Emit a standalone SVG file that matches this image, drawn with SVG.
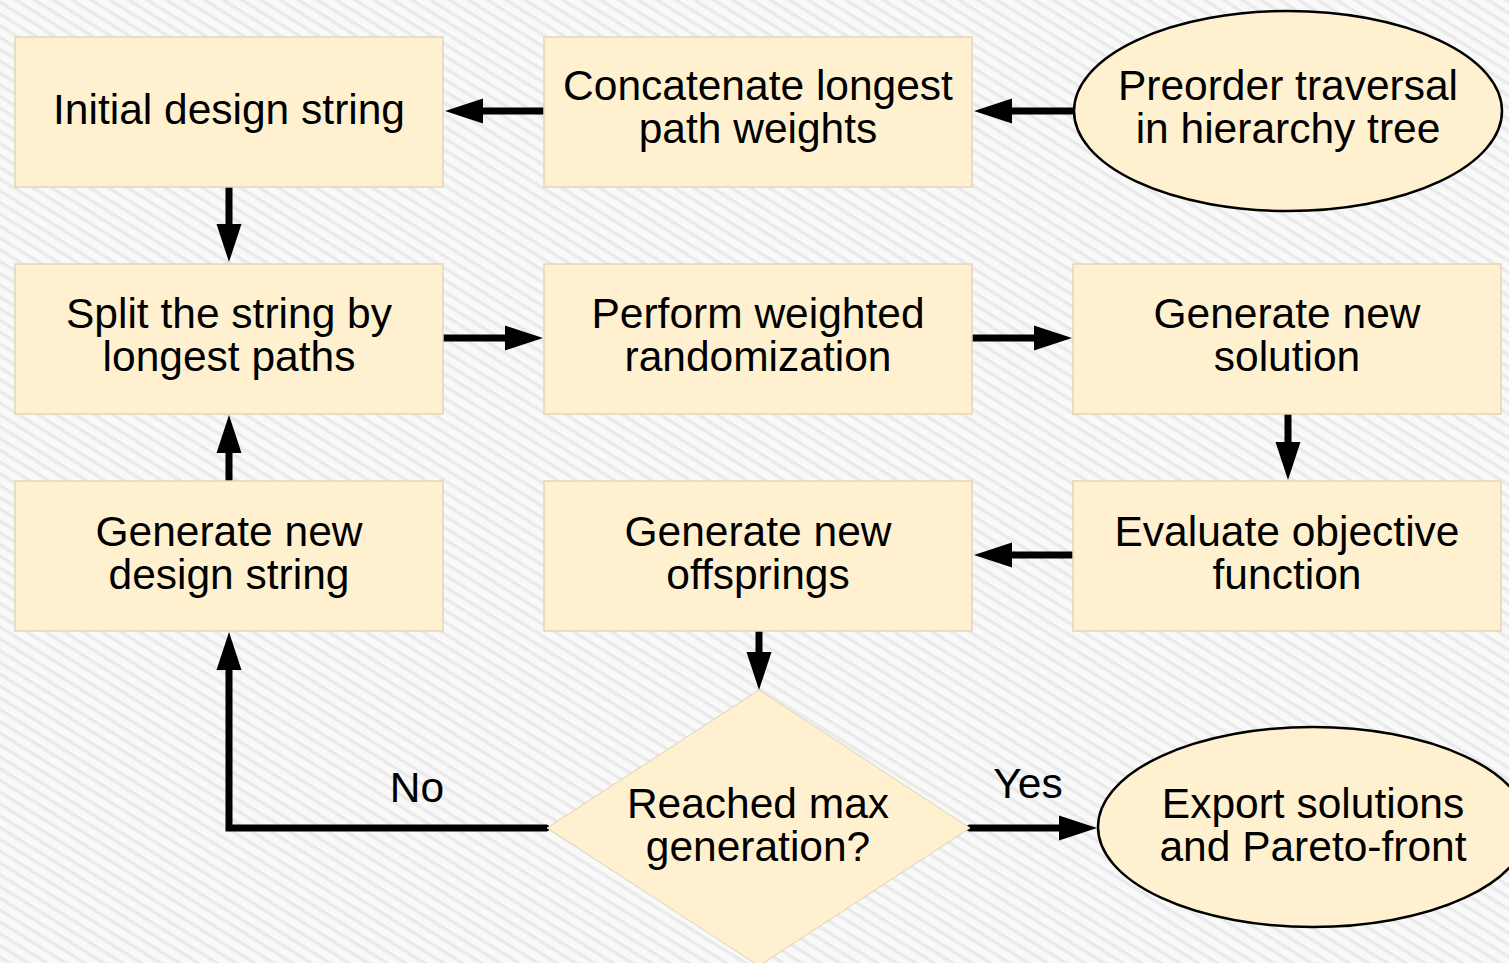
<svg xmlns="http://www.w3.org/2000/svg" width="1509" height="963" viewBox="0 0 1509 963">
  <defs>
    <!-- faint diagonal hatch used as page background -->
    <pattern id="hatch" width="10" height="10" patternUnits="userSpaceOnUse" patternTransform="rotate(32)">
      <rect width="10" height="10" fill="#f9f9f9"/>
      <rect y="0" width="10" height="3.5" fill="#eaeaea"/>
    </pattern>
    <marker id="head" markerUnits="userSpaceOnUse" markerWidth="40" markerHeight="26" refX="0" refY="12.5" orient="auto" overflow="visible">
      <path d="M0,0 L38,12.5 L0,25 Z" fill="#000"/>
    </marker>
    <style>
      .box { fill: #fff1cf; stroke: #e2d6b8; stroke-width: 1.5; }
      .oval { fill: #fff1cf; stroke: #000; stroke-width: 2.5; }
      .dia { fill: #fff1cf; stroke: #ddd2b5; stroke-width: 1; }
      .lbl { font-family: "Liberation Sans", Arial, sans-serif; font-size: 42.5px; fill: #000; text-anchor: middle; }
      .edge { fill: none; stroke: #000; stroke-width: 7; stroke-linecap: round; stroke-linejoin: miter; marker-end: url(#head); }
    </style>
  </defs>

  <rect width="1509" height="963" fill="url(#hatch)"/>

  <!-- connectors -->
  <g id="connectors">
    <path class="edge" d="M545,111 H483"/>
    <path class="edge" d="M1075,111 H1012"/>
    <path class="edge" d="M229,187 V224"/>
    <path class="edge" d="M443,338 H505"/>
    <path class="edge" d="M972,338 H1034"/>
    <path class="edge" d="M1288,413 V442"/>
    <path class="edge" d="M1075,555 H1012"/>
    <path class="edge" d="M229,482 V453"/>
    <path class="edge" d="M759,631 V652"/>
    <path class="edge" d="M546,828 H229 V670"/>
    <path class="edge" d="M970,828 H1059"/>
    <text class="lbl" x="417" y="802" font-size="40">No</text>
    <text class="lbl" x="1028" y="798" font-size="40">Yes</text>
  </g>

  <!-- row 1 -->
  <g id="initial-design-string">
    <rect class="box" x="15" y="37" width="428" height="150"/>
    <text class="lbl" x="229" y="124">Initial design string</text>
  </g>
  <g id="concatenate-weights">
    <rect class="box" x="544" y="37" width="428" height="150"/>
    <text class="lbl" x="758" y="100">Concatenate longest</text>
    <text class="lbl" x="758" y="143">path weights</text>
  </g>
  <g id="preorder-traversal">
    <ellipse class="oval" cx="1288" cy="111" rx="214" ry="100"/>
    <text class="lbl" x="1288" y="100">Preorder traversal</text>
    <text class="lbl" x="1288" y="143">in hierarchy tree</text>
  </g>

  <!-- row 2 -->
  <g id="split-string">
    <rect class="box" x="15" y="264" width="428" height="150"/>
    <text class="lbl" x="229" y="328">Split the string by</text>
    <text class="lbl" x="229" y="371">longest paths</text>
  </g>
  <g id="weighted-randomization">
    <rect class="box" x="544" y="264" width="428" height="150"/>
    <text class="lbl" x="758" y="328">Perform weighted</text>
    <text class="lbl" x="758" y="371">randomization</text>
  </g>
  <g id="new-solution">
    <rect class="box" x="1073" y="264" width="428" height="150"/>
    <text class="lbl" x="1287" y="328">Generate new</text>
    <text class="lbl" x="1287" y="371">solution</text>
  </g>

  <!-- row 3 -->
  <g id="new-design-string">
    <rect class="box" x="15" y="481" width="428" height="150"/>
    <text class="lbl" x="229" y="546">Generate new</text>
    <text class="lbl" x="229" y="589">design string</text>
  </g>
  <g id="new-offsprings">
    <rect class="box" x="544" y="481" width="428" height="150"/>
    <text class="lbl" x="758" y="546">Generate new</text>
    <text class="lbl" x="758" y="589">offsprings</text>
  </g>
  <g id="evaluate-objective">
    <rect class="box" x="1073" y="481" width="428" height="150"/>
    <text class="lbl" x="1287" y="546">Evaluate objective</text>
    <text class="lbl" x="1287" y="589">function</text>
  </g>

  <!-- decision and terminal -->
  <g id="max-generation">
    <polygon class="dia" points="759,690 970,828 759,966 547,828"/>
    <text class="lbl" x="758" y="818">Reached max</text>
    <text class="lbl" x="758" y="861">generation?</text>
  </g>
  <g id="export-solutions">
    <ellipse class="oval" cx="1313" cy="827" rx="215" ry="100"/>
    <text class="lbl" x="1313" y="818">Export solutions</text>
    <text class="lbl" x="1313" y="861">and Pareto-front</text>
  </g>
</svg>
